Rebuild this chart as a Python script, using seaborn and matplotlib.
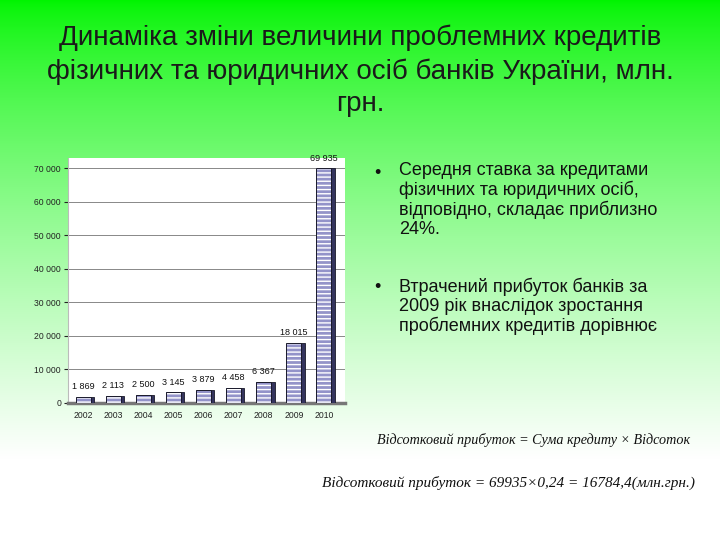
import numpy as np
import matplotlib
matplotlib.use("Agg")
import matplotlib.pyplot as plt
from matplotlib.patches import Rectangle
import seaborn as sns

''' DATA '''
years = ['2002', '2003', '2004', '2005', '2006', '2007', '2008', '2009', '2010']
credits = [1869, 2113, 2500, 3145, 3879, 4458, 6367, 18015, 69935]
y_ticks = [0, 10000, 20000, 30000, 40000, 50000, 60000, 70000]

title = ("Динаміка зміни величини проблемних кредитів\n"
         "фізичних та юридичних осіб банків України, млн.\n"
         "грн.")
bullets = [
    "Середня ставка за кредитами\nфізичних та юридичних осіб,\nвідповідно, складає приблизно\n24%.",
    "Втрачений прибуток банків за\n2009 рік внаслідок зростання\nпроблемних кредитів дорівнює",
]
formula_1 = "Відсотковий прибуток = Сума кредиту × Відсоток"
formula_2 = "Відсотковий прибуток = 69935×0,24 = 16784,4(млн.грн.)"

def fmt(v):
    return f"{v:,.0f}".replace(",", " ")

''' SET UP '''
sns.set_style("white")
plt.rcParams['font.family'] = ['Liberation Sans', 'DejaVu Sans']
plt.rcParams['hatch.linewidth'] = 1.0

fig = plt.figure(figsize=(7.2, 5.4), dpi=100)

# slide background: green fading to white
bg = fig.add_axes([0, 0, 1, 1])
t = np.clip(np.linspace(0, 1, 540) / 0.85, 0, 1) ** 0.75
grad = np.zeros((540, 2, 3))
grad[:, :, 0] = t[:, None]
grad[:, :, 1] = 1.0 - 0.04 * (1 - t[:, None])
grad[:, :, 2] = t[:, None]
bg.imshow(grad, aspect='auto', extent=[0, 1, 0, 1], zorder=0)
bg.set_xlim(0, 1)
bg.set_ylim(0, 1)
bg.axis('off')

''' CHART '''
ax = fig.add_axes([68 / 720, 137 / 540, 277 / 720, 245 / 540])
ax.set_facecolor('white')
sns.barplot(x=years, y=credits, color='#8a8ad2', width=0.5, ax=ax,
            hatch='----', edgecolor='white', linewidth=0, zorder=3)

# pseudo-3D side face and outline
for p in list(ax.patches):
    x0, y0, w, h = p.get_x(), p.get_y(), p.get_width(), p.get_height()
    ax.add_patch(Rectangle((x0 + w, y0), w * 0.22, h, facecolor='#34345e',
                           edgecolor='#1a1a2a', lw=0.6, zorder=4))
    ax.add_patch(Rectangle((x0, y0), w, h, fill=False, edgecolor='#1a1a2a',
                           lw=0.7, zorder=4))

ax.bar_label(ax.containers[0], labels=[fmt(v) for v in credits],
             fontsize=6.5, padding=4, color='#111111')

ax.set_xlim(-0.5, 8.7)
ax.set_ylim(0, 73000)
ax.set_yticks(y_ticks)
ax.set_yticklabels([fmt(v) for v in y_ticks])
ax.tick_params(axis='y', labelsize=6.2, length=3, pad=2, colors='#222222', left=True)
ax.tick_params(axis='x', labelsize=6.2, length=0, pad=6, colors='#222222')
ax.yaxis.grid(True, color='#888888', lw=0.7, zorder=1)
ax.set_xlabel("")
ax.set_ylabel("")
for s in ['top', 'right']:
    ax.spines[s].set_visible(False)
ax.spines['left'].set_color('#bbbbbb')
ax.spines['bottom'].set_color('#777777')
ax.spines['bottom'].set_linewidth(2.5)

''' TEXT '''
fig.text(0.5, 1 - 25 / 540, title, ha='center', va='top', fontsize=20,
         color='#1a1a1a', linespacing=1.33)

fig.text(374 / 720, 1 - 173 / 540, "•", fontsize=13, va='center', color='#111111')
fig.text(399 / 720, 1 - 162 / 540, bullets[0], fontsize=13, va='top',
         color='#111111', linespacing=1.12)
fig.text(374 / 720, 1 - 288 / 540, "•", fontsize=13, va='center', color='#111111')
fig.text(399 / 720, 1 - 278 / 540, bullets[1], fontsize=13, va='top',
         color='#111111', linespacing=1.12)

fig.text(690 / 720, 1 - 440 / 540, formula_1, ha='right', va='center',
         fontsize=10.2, style='italic', family=['Liberation Serif', 'DejaVu Serif'],
         color='#111111')
fig.text(695 / 720, 1 - 483 / 540, formula_2, ha='right', va='center',
         fontsize=11, style='italic', family=['Liberation Serif', 'DejaVu Serif'],
         color='#111111')

fig.savefig('out.png', dpi=100)
